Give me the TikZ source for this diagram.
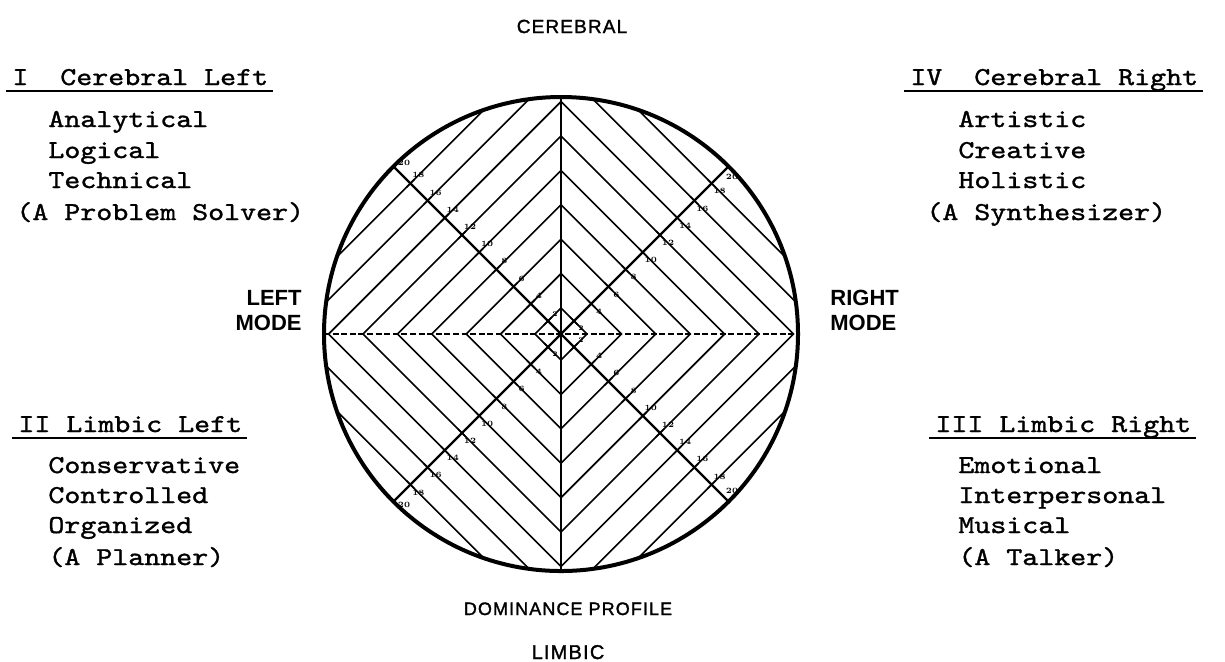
\documentclass[tikz,border=0pt]{standalone}
\usepackage{fontspec}
\setsansfont{Liberation Sans}
\newfontfamily\capsfont[LetterSpace=6,FakeBold=1.5]{Liberation Sans}
\newfontfamily\twfont{lmmono10-regular.otf}[FakeStretch=1.18,FakeBold=1.3]
\begin{document}
\begin{tikzpicture}[x=0.5pt,y=-0.5pt,
  rim/.style={line width=2pt},
  vaxis/.style={line width=1.4pt},
  daxis/.style={line width=1.1pt},
  haxis/.style={line width=1.1pt, dash pattern=on 3pt off 1.3pt},
  hatch/.style={line width=0.8pt},
  tickmark/.style={line width=0.8pt},
  ticklabel/.style={font=\fontsize{4}{4}\selectfont\bfseries, inner sep=0},
  innerlabel/.style={font=\fontsize{3.5}{3.5}\selectfont\bfseries, inner sep=0},
  tw/.style={font=\fontsize{12.9}{15}\twfont, anchor=base west, inner sep=0},
  hd/.style={font=\fontsize{11}{12.5}\sffamily\bfseries, inner sep=0},
  capt/.style={font=\fontsize{9.5}{11}\capsfont, anchor=base, inner sep=0},
  uline/.style={line width=1pt}]
\path[use as bounding box] (0,0) rectangle (1225,661);
\coordinate (C) at (561,334);
% hatching: concentric diamonds
\begin{scope}
  \clip (C) circle[radius=237];
  \foreach \n in {0,...,9} {
    \pgfmathsetmacro\k{26+34.4*\n}
    \draw[hatch, shift={(561,334)}] (\k,0) -- (0,\k) -- (-\k,0) -- (0,-\k) -- cycle;
  }
\end{scope}
% axes
\coordinate (T) at (561,97);
\coordinate (B) at (561,571);
\coordinate (L) at (324,334);
\coordinate (R) at (798,334);
\coordinate (NW) at (394,167);
\coordinate (NE) at (728,167);
\coordinate (SE) at (728,501);
\coordinate (SW) at (394,501);
\draw[vaxis] (T) -- (B);
\draw[haxis] (L) -- (R);
\draw[daxis] (NW) -- (SE);
\draw[daxis] (NE) -- (SW);
\draw[rim] (C) circle[radius=237];
% ticks and scale labels
\begin{scope}[shift={(561,334)}]
  \foreach \n in {0,...,8} {
    \pgfmathsetmacro\d{(26+34.4*\n)/2}
    \draw[tickmark] (\d-4,-\d-4) -- (\d+4,-\d+4);
    \draw[tickmark] (-\d-4,-\d+4) -- (-\d+4,-\d-4);
    \draw[tickmark] (\d-4,\d+4) -- (\d+4,\d-4);
    \draw[tickmark] (-\d-4,\d-4) -- (-\d+4,\d+4);
  }
  \foreach \n in {1,...,8} {
    \pgfmathsetmacro\d{(26+34.4*\n)/2}
    \pgfmathtruncatemacro\v{2*(\n+1)}
    \node[ticklabel] at (\d+8,-\d+8) {\v};
    \node[ticklabel] at (-\d+8,-\d-8) {\v};
    \node[ticklabel] at (\d+8,\d-8) {\v};
    \node[ticklabel] at (-\d+8,\d+8) {\v};
  }
  \node[innerlabel] at (20,-6) {2};
  \node[innerlabel] at (-6,-20) {2};
  \node[innerlabel] at (20,6) {2};
  \node[innerlabel] at (-6,20) {2};
  \def\e{167}
  \draw[tickmark] (\e,-\e) -- (\e+5,-\e+5);
  \draw[tickmark] (-\e,-\e) -- (-\e+5,-\e-5);
  \draw[tickmark] (\e,\e) -- (\e+5,\e-5);
  \draw[tickmark] (-\e,\e) -- (-\e+5,\e+5);
  \def\f{164}
  \node[ticklabel] at (\f+7,-\f+7) {20};
  \node[ticklabel] at (-\f+7,-\f-7) {20};
  \node[ticklabel] at (\f+7,\f-7) {20};
  \node[ticklabel] at (-\f+7,\f+7) {20};
\end{scope}
% axis captions
\node[capt] (cereb) at (572,33) {CEREBRAL};
\node[capt, font=\fontsize{9}{11}\capsfont] (dom) at (568,615) {DOMINANCE PROFILE};
\node[capt, font=\fontsize{10}{11}\capsfont] (limb) at (568,659) {LIMBIC};
\node[hd, anchor=base east, align=right] (lmode) at (302,330) {LEFT\\MODE};
\node[hd, anchor=base west, align=left] (rmode) at (830,330) {RIGHT\\MODE};
% quadrant I
\node[tw] (h1) at (12,85) {I\ \ Cerebral Left};
\draw[uline] ([xshift=-3pt,yshift=-3pt]h1.base west) -- ([xshift=2pt,yshift=-3pt]h1.base east);
\node[tw] (a1) at (48,127) {Analytical};
\node[tw] (a2) at (48,158) {Logical};
\node[tw] (a3) at (48,188) {Technical};
\node[tw] (a4) at (16,220) {(A Problem Solver)};
% quadrant II
\node[tw] (h2) at (18,432) {II Limbic Left};
\draw[uline] ([xshift=-3pt,yshift=-3pt]h2.base west) -- ([xshift=2pt,yshift=-3pt]h2.base east);
\node[tw] (b1) at (48,473) {Conservative};
\node[tw] (b2) at (48,503) {Controlled};
\node[tw] (b3) at (48,533) {Organized};
\node[tw] (b4) at (48,565) {(A Planner)};
% quadrant IV
\node[tw] (h4) at (910,85) {IV\ \ Cerebral Right};
\draw[uline] ([xshift=-3pt,yshift=-3pt]h4.base west) -- ([xshift=2pt,yshift=-3pt]h4.base east);
\node[tw] (c1) at (958,127) {Artistic};
\node[tw] (c2) at (958,158) {Creative};
\node[tw] (c3) at (958,188) {Holistic};
\node[tw] (c4) at (926,220) {(A Synthesizer)};
% quadrant III
\node[tw] (h3) at (935,432) {III Limbic Right};
\draw[uline] ([xshift=-3pt,yshift=-3pt]h3.base west) -- ([xshift=2pt,yshift=-3pt]h3.base east);
\node[tw] (d1) at (958,473) {Emotional};
\node[tw] (d2) at (958,503) {Interpersonal};
\node[tw] (d3) at (958,533) {Musical};
\node[tw] (d4) at (958,565) {(A Talker)};
\end{tikzpicture}
\end{document}
